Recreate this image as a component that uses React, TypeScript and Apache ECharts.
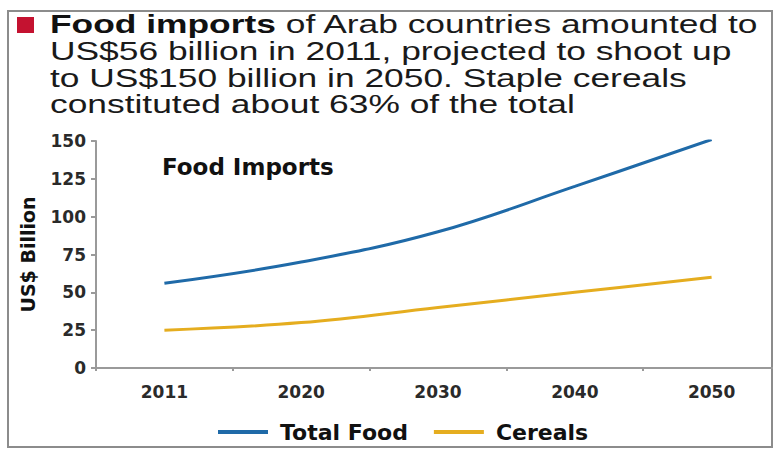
import React, { useEffect, useRef } from "react";
import * as echarts from "echarts";

const years = ["2011", "2020", "2030", "2040", "2050"];
const totalFood = [56, 70, 90, 120, 151];
const cereals = [25, 30, 40, 50, 60];
const titleLines = [
  "US$56 billion in 2011, projected to shoot up",
  "to US$150 billion in 2050. Staple cereals",
  "constituted about 63% of the total",
];
const titleBold = "Food imports";
const titleRest = " of Arab countries amounted to";
const yAxisName = "US$ Billion";
const innerLabel = "Food Imports";
const seriesNames = ["Total Food", "Cereals"];

const BLUE = "#1f6aa8";
const GOLD = "#e5ad1f";
const BOLD_FONT = "DejaVu Sans";
const TITLE_FONT = "Liberation Sans";

export default function App() {
  const ref = useRef<HTMLDivElement>(null);
  useEffect(() => {
    document.body.style.margin = "0";
    if (!ref.current) return;
    const chart = echarts.init(ref.current, null, { renderer: "svg" });
    const titleY = [51.5, 78.5, 104.5];
    const option: any = {
      animation: false,
      backgroundColor: "#ffffff",
      grid: {
        left: 96,
        right: -7,
        top: 141,
        bottom: 81,
        containLabel: false,
        outerBoundsMode: "none",
      },
      legend: {
        left: 213,
        top: 416,
        icon: "rect",
        itemWidth: 50,
        itemHeight: 4,
        itemGap: 26,
        data: seriesNames,
        textStyle: {
          fontFamily: BOLD_FONT,
          fontWeight: "bold",
          fontSize: 22,
          color: "#111",
          padding: [0, 0, 0, 7],
        },
      },
      xAxis: {
        type: "category",
        data: years,
        boundaryGap: true,
        axisLine: { show: true, lineStyle: { color: "#9a9a9a", width: 2 } },
        axisTick: { show: true, length: 3, lineStyle: { color: "#9a9a9a", width: 2 } },
        axisLabel: {
          fontFamily: BOLD_FONT,
          fontWeight: "bold",
          fontSize: 17,
          color: "#2a2a2a",
          margin: 15,
        },
        splitLine: { show: false },
      },
      yAxis: {
        type: "value",
        min: 0,
        max: 150,
        interval: 25,
        name: yAxisName,
        nameLocation: "middle",
        nameRotate: 90,
        nameGap: 59,
        nameTextStyle: {
          fontFamily: BOLD_FONT,
          fontWeight: "bold",
          fontSize: 19,
          color: "#111",
        },
        axisLine: { show: true, lineStyle: { color: "#9a9a9a", width: 2 } },
        axisTick: { show: true, length: 5, lineStyle: { color: "#9a9a9a", width: 2 } },
        axisLabel: {
          fontFamily: BOLD_FONT,
          fontWeight: "bold",
          fontSize: 17,
          color: "#2a2a2a",
          margin: 10,
        },
        splitLine: { show: false },
      },
      series: [
        {
          name: seriesNames[0],
          type: "line",
          data: totalFood,
          smooth: 0.4,
          symbol: "none",
          color: BLUE,
          lineStyle: { color: BLUE, width: 3 },
        },
        {
          name: seriesNames[1],
          type: "line",
          data: cereals,
          smooth: 0.4,
          symbol: "none",
          color: GOLD,
          lineStyle: { color: GOLD, width: 3 },
        },
      ],
      graphic: [
        {
          type: "rect",
          shape: { x: 8, y: 11, width: 764, height: 436 },
          style: { fill: "none", stroke: "#8c8c8c", lineWidth: 2 },
          silent: true,
        },
        {
          type: "rect",
          shape: { x: 17, y: 17, width: 17, height: 16 },
          style: { fill: "#c41230" },
        },
        {
          type: "text",
          x: 50,
          y: 24.5,
          scaleX: 1.415,
          style: {
            text: "{b|" + titleBold + "}{r|" + titleRest + "}",
            verticalAlign: "middle",
            align: "left",
            rich: {
              b: {
                fontFamily: TITLE_FONT,
                fontWeight: "bold",
                fontSize: 25,
                fill: "#111",
                color: "#111",
              },
              r: {
                fontFamily: TITLE_FONT,
                fontSize: 25,
                fill: "#1a1a1a",
                color: "#1a1a1a",
              },
            },
          },
        },
        ...titleLines.map((t, i) => ({
          type: "text",
          x: 50,
          y: titleY[i],
          scaleX: 1.415,
          style: {
            text: t,
            fontFamily: TITLE_FONT,
            fontSize: 25,
            fill: "#1a1a1a",
            verticalAlign: "middle",
            align: "left",
          },
        })),
        {
          type: "text",
          x: 162,
          y: 167,
          style: {
            text: innerLabel,
            fontFamily: BOLD_FONT,
            fontWeight: "bold",
            fontSize: 23,
            fill: "#111",
            verticalAlign: "middle",
            align: "left",
          },
        },
      ],
    };
    chart.setOption(option);
    return () => chart.dispose();
  }, []);
  return <div ref={ref} style={{ width: 773, height: 449 }} />;
}
